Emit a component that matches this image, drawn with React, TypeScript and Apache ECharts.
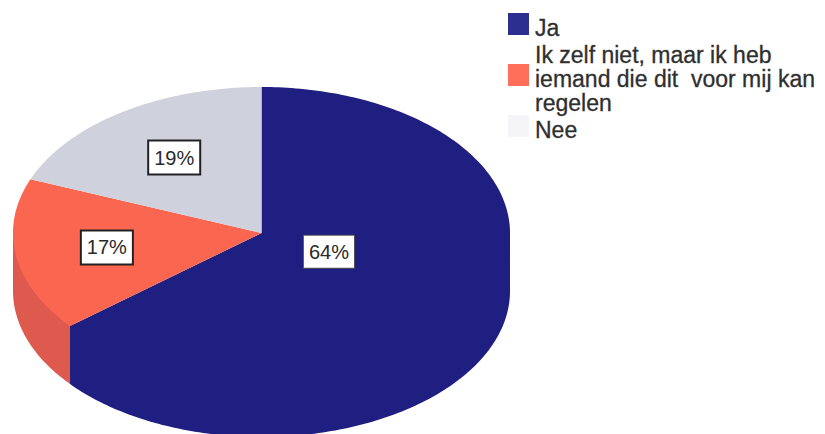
import React, { useEffect, useRef } from "react";
import * as echarts from "echarts";

const categories = ["Ja", "Ik zelf niet, maar ik heb\niemand die dit  voor mij kan\nregelen", "Nee"];
const values = [64, 17, 19];
const percentLabels = ["64%", "17%", "19%"];

const topColors = ["#1e1f80", "#fb6650", "#cfd2dc"];
const sideColors = ["#1e1f80", "#de5a4e", "#cfd2dc"];
const swatchColors = ["#2c2e90", "#ff6f5a", "#f5f5f7"];
const labelRadii = [0.3, 0.63, 0.625];
const labelBorders = [1, 2, 2];

const CX = 261.5, CY = 233, RX = 248.5, RY = 146, DEPTH = 58;
const total = values.reduce((a, b) => a + b, 0);

// clockwise angle from 12 o'clock, in radians
const pt = (a: number, dy = 0, r = 1): number[] => [
  CX + RX * r * Math.sin(a),
  CY - RY * r * Math.cos(a) + dy,
];

function arc(a0: number, a1: number, dy = 0, r = 1): number[][] {
  const n = Math.max(2, Math.ceil(((a1 - a0) / (2 * Math.PI)) * 360));
  const out: number[][] = [];
  for (let i = 0; i <= n; i++) out.push(pt(a0 + ((a1 - a0) * i) / n, dy, r));
  return out;
}

function makeSeries(idx: number) {
  const before = values.slice(0, idx).reduce((a, b) => a + b, 0);
  const a0 = (before / total) * 2 * Math.PI;
  const a1 = ((before + values[idx]) / total) * 2 * Math.PI;
  return {
    type: "custom",
    name: categories[idx],
    coordinateSystem: "none",
    silent: true,
    itemStyle: { color: swatchColors[idx] },
    data: [[values[idx]]],
    renderItem: () => {
      const children: any[] = [];
      // the visible front wall lies between 90 and 270 degrees; its upper edge
      // runs slightly inside the top face so that no seam shows
      const s0 = Math.max(a0, Math.PI / 2);
      const s1 = Math.min(a1, (3 * Math.PI) / 2);
      if (s1 > s0) {
        children.push({
          type: "polygon",
          shape: {
            points: [
              pt(s0),
              ...arc(s0, s1, 0, 0.98),
              pt(s1),
              ...arc(s0, s1, DEPTH).reverse(),
            ],
          },
          style: { fill: sideColors[idx] },
        });
      }
      children.push({
        type: "polygon",
        shape: { points: [[CX, CY], ...arc(a0, a1)] },
        style: { fill: topColors[idx] },
      });
      const mid = pt((a0 + a1) / 2, 0, labelRadii[idx]);
      children.push({
        type: "text",
        z2: 10,
        style: {
          x: mid[0],
          y: mid[1],
          text: percentLabels[idx],
          align: "center",
          verticalAlign: "middle",
          fontFamily: "Liberation Sans",
          fontSize: 20,
          fill: "#2a2a2a",
          backgroundColor: "#ffffff",
          borderColor: idx === 0 ? "#555555" : "#222222",
          borderWidth: labelBorders[idx],
          padding: [6, 5, 6, 5],
        },
      });
      return { type: "group", children };
    },
  };
}

export default function App() {
  const ref = useRef<HTMLDivElement>(null);
  useEffect(() => {
    document.body.style.margin = "0";
    const chart = echarts.init(ref.current!, null, { renderer: "svg" });
    chart.setOption({
      animation: false,
      backgroundColor: "#ffffff",
      legend: {
        orient: "vertical",
        left: 508,
        top: 13,
        padding: 0,
        itemWidth: 21,
        itemHeight: 30,
        itemGap: 0,
        align: "left",
        selectedMode: false,
        // swatch sits above the text's centre, as in the reference
        icon: "path://M0 0H21V22H0ZM0 30L0.01 30",
        data: categories.map((name, i) => ({
          name,
          itemStyle: { color: swatchColors[i] },
        })),
        textStyle: {
          fontFamily: "Liberation Sans",
          fontSize: 23,
          lineHeight: 24,
          color: "#2f2f2f",
          padding: [0, 0, 0, 1],
          textBorderColor: "#2f2f2f",
          textBorderWidth: 0.3,
        },
      },
      series: values.map((_, i) => makeSeries(i)),
    });
    return () => chart.dispose();
  }, []);
  return <div ref={ref} style={{ width: 825, height: 434 }} />;
}
